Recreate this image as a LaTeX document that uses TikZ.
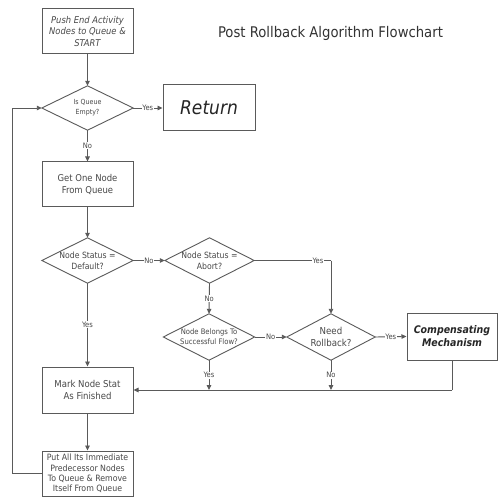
\documentclass[tikz,border=0pt]{standalone}
\usepackage{fontspec}
\setmainfont{DejaVu Sans Condensed}
\usetikzlibrary{arrows.meta}
\definecolor{ln}{HTML}{5a5a5a}
\definecolor{tx}{HTML}{484848}
\begin{document}
\begin{tikzpicture}[x=1pt,y=-1pt,
  line/.style={draw=ln,line width=0.9pt},
  arr/.style={line, -{Triangle[length=5pt,width=4.5pt]}},
  box/.style={draw=ln,line width=1pt,rectangle,inner sep=1pt,align=center,text=tx},
  dia/.style={rectangle,inner sep=0pt,align=center,text=tx},
  lab/.style={fill=white,inner sep=0.8pt,text=tx,font=\fontsize{7.5}{8}\selectfont}]
\useasboundingbox (0,0) rectangle (498,497);
\fill[white] (0,0) rectangle (498,497);

\node[box,minimum width=91pt,minimum height=45pt,font=\itshape\fontsize{9.3}{11.5}\selectfont] (start) at (87.5,31.5) {Push End Activity\\Nodes to Queue \&\\START};
\node[text=black!80,font=\fontsize{14.7}{16}\selectfont] (title) at (330.5,33) {Post Rollback Algorithm Flowchart};

\node[dia,minimum width=91pt,minimum height=44pt,font=\fontsize{7}{10}\selectfont] (empty) at (87.5,108) {Is Queue\\Empty?};
\node[box,minimum width=92pt,minimum height=46pt,text=black!85,font=\itshape\fontsize{19}{22}\selectfont] (ret) at (209,108) {Return};
\node[box,minimum width=91pt,minimum height=45pt,font=\fontsize{9.4}{12.5}\selectfont] (get) at (87.5,184.5) {Get One Node\\From Queue};
\node[dia,minimum width=91pt,minimum height=45pt,font=\fontsize{8.6}{11}\selectfont] (default) at (87.5,260.5) {Node Status =\\Default?};
\node[dia,minimum width=89pt,minimum height=45pt,font=\fontsize{8.6}{11}\selectfont] (abort) at (209.5,260.5) {Node Status =\\Abort?};
\node[dia,minimum width=91pt,minimum height=46pt,font=\fontsize{7.6}{10}\selectfont] (belongs) at (209,337) {Node Belongs To\\Successful Flow?};
\node[dia,minimum width=88pt,minimum height=46pt,font=\fontsize{9.6}{12}\selectfont] (roll) at (331,337) {Need\\Rollback?};
\node[box,minimum width=90pt,minimum height=47pt,text=black!85,font=\bfseries\itshape\fontsize{10.5}{13}\selectfont] (comp) at (452,336.5) {Compensating\\Mechanism};
\node[box,minimum width=91pt,minimum height=46pt,font=\fontsize{9.5}{12.5}\selectfont] (mark) at (87.5,390) {Mark Node Stat\\As Finished};
\node[box,minimum width=91pt,minimum height=45pt,font=\fontsize{8.7}{10.2}\selectfont] (put) at (87.5,473.5) {Put All Its Immediate\\Predecessor Nodes\\To Queue \& Remove\\Itself From Queue};

\foreach \n in {empty,default,abort,belongs,roll}
  \draw[line] (\n.north) -- (\n.east) -- (\n.south) -- (\n.west) -- cycle;

\coordinate (bj) at (belongs.south |- mark.east);
\coordinate (rj) at (roll.south |- mark.east);
\coordinate (cj) at (comp.south |- mark.east);
\coordinate (ac) at (abort.east -| roll.north);
\coordinate (lb) at (12,473.5);

\draw[arr] (start) -- (empty.north);
\draw[arr] (empty.east) -- node[lab]{Yes} (ret.west);
\draw[arr] (empty.south) -- node[lab]{No} (get.north);
\draw[arr] (get.south) -- (default.north);
\draw[arr] (default.east) -- node[lab]{No} (abort.west);
\draw[arr] (default.south) -- node[lab]{Yes} (mark.north);
\draw[arr] (abort.south) -- node[lab]{No} (belongs.north);
\draw[line] (abort.east) -- node[lab,pos=0.83]{Yes} (ac);
\draw[arr] (ac) -- (roll.north);
\draw[arr] (belongs.east) -- node[lab]{No} (roll.west);
\draw[arr] (roll.east) -- node[lab]{Yes} (comp.west);
\draw[arr] (belongs.south) -- node[lab]{Yes} (bj);
\draw[arr] (roll.south) -- node[lab]{No} (rj);
\draw[line] (comp.south) -- (cj);
\draw[arr] (cj) -- (mark.east);
\draw[arr] (mark.south) -- (put.north);
\draw[line] (put.west) -- (lb);
\draw[arr] (lb) |- (empty.west);
\end{tikzpicture}
\end{document}
